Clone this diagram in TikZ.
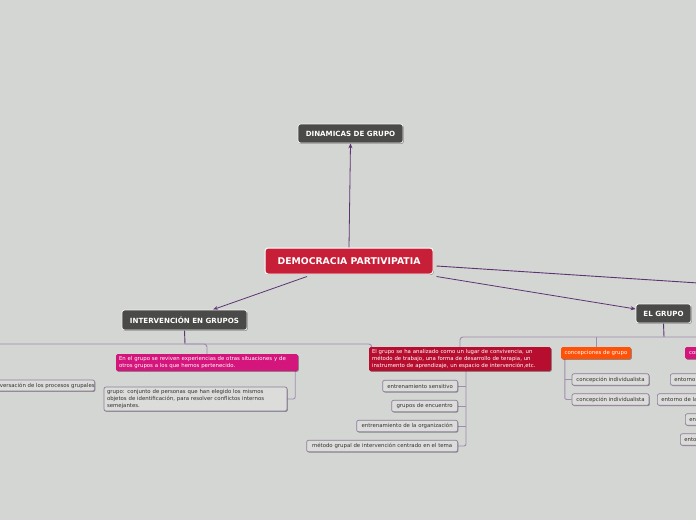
\documentclass[tikz,border=0pt]{standalone}
\usepackage{fontspec}
\setmainfont{DejaVu Sans}
\usetikzlibrary{shadows,arrows.meta,calc}
\definecolor{bgc}{HTML}{D4D6D3}
\definecolor{darkbox}{HTML}{4A4A48}
\definecolor{redc}{HTML}{C71F37}
\definecolor{red2c}{HTML}{B70D2E}
\definecolor{magc}{HTML}{D3157C}
\definecolor{orc}{HTML}{FF5208}
\definecolor{mainln}{HTML}{5E3372}
\definecolor{treeln}{HTML}{A08CB0}
\definecolor{chfill}{HTML}{DCDCDA}
\definecolor{chdraw}{HTML}{8C7C9A}
\definecolor{chtext}{HTML}{333333}
\pgfdeclarelayer{back}
\pgfdeclarelayer{lines}
\pgfsetlayers{back,lines,main}
\tikzset{
  shad/.style={drop shadow={shadow xshift=0.8pt,shadow yshift=-0.9pt,opacity=0.35,fill=black}},
  darkbox/.style={shad,fill=darkbox,draw=white!90!gray,line width=0.8pt,rounded corners=2.5pt,
    text=white,font=\bfseries\fontsize{7.1}{8}\selectfont,inner sep=0pt},
  centralbox/.style={shad,fill=redc,draw=white,line width=1pt,rounded corners=3pt,
    text=white,font=\bfseries\fontsize{9.3}{10}\selectfont,inner sep=0pt},
  colbox/.style={shad,rounded corners=1.5pt,text=white,font=\fontsize{5.4}{6.7}\selectfont,
    inner sep=0pt,align=left},
  childbox/.style={shad,fill=chfill,draw=chdraw,line width=0.7pt,rounded corners=2pt,
    text=chtext,font=\fontsize{5.4}{6.6}\selectfont,inner sep=0pt,minimum height=11.5pt},
  mainarrow/.style={draw=mainln,line width=0.8pt,-{Stealth[length=5pt,width=4pt]}},
  mainline/.style={draw=mainln,line width=0.9pt},
  treeline/.style={draw=treeln,line width=0.9pt,rounded corners=3pt}
}
\begin{document}
\begin{tikzpicture}[x=1pt,y=-1pt]
\useasboundingbox (0,0) rectangle (696,520);
\begin{pgfonlayer}{back}
\fill[bgc] (0,0) rectangle (696,520);
\end{pgfonlayer}
\clip (0,0) rectangle (696,520);

% main nodes
\node[centralbox,minimum width=168pt,minimum height=26pt] (central) at (349,261) {DEMOCRACIA PARTIVIPATIA};
\node[darkbox,minimum width=105pt,minimum height=19pt] (dinam) at (350.5,133.5) {DINAMICAS DE GRUPO};
\node[darkbox,minimum width=125pt,minimum height=20pt] (intv) at (184.5,320) {INTERVENCIÓN EN GRUPOS};
\node[darkbox,minimum width=55pt,minimum height=19pt] (grupo) at (663.5,313.5) {EL GRUPO};

% intervencion branch
\node[colbox,fill=magc,minimum width=182pt,minimum height=17pt,text width=176pt] (m1) at (207,362.5)
  {En el grupo se reviven experiencias de otras situaciones y de\\otros grupos a los que hemos pertenecido.};
\node[childbox,minimum width=183pt,minimum height=24pt,text width=177pt,align=left] (gc) at (195.5,399)
  {grupo: conjunto de personas que han elegido los mismos\\objetos de identificación, para resolver conflictos internos\\semejantes.};
\node[childbox,anchor=east,minimum height=11pt] (conv) at (95,385.5) {\hspace{3pt}conversación de los procesos grupales\hspace{3pt}};

% el grupo branch
\node[colbox,fill=red2c,minimum width=182pt,minimum height=24pt,text width=176pt] (red2) at (460,359)
  {El grupo se ha analizado como un lugar de convivencia, un\\método de trabajo, una forma de desarrollo de terapia, un\\instrumento de aprendizaje, un espacio de intervención,etc.};
\node[childbox,anchor=east,minimum width=75pt] (c1) at (458,386) {entrenamiento sensitivo};
\node[childbox,anchor=east,minimum width=66pt] (c2) at (458,406) {grupos de encuentro};
\node[childbox,anchor=east,minimum width=101pt] (c3) at (458,426) {entrenamiento de la organización};
\node[childbox,anchor=east,minimum width=151pt] (c4) at (458,446) {método grupal de intervención centrado en el tema};

\node[colbox,fill=orc,minimum width=70pt,minimum height=12pt,align=center] (conc) at (596,353) {concepciones de grupo};
\node[childbox,minimum width=77pt] (k1) at (610.5,379.5) {concepción individualista};
\node[childbox,minimum width=77pt] (k2) at (610.5,399.5) {concepción individualista};

\node[colbox,fill=magc,anchor=west,minimum height=12pt] (m2) at (685,353) {\hspace{4pt}concepciones del entorno\hspace{4pt}};
\node[childbox,anchor=west] (e1) at (670,379.5) {\hspace{4pt}entorno físico\hspace{4pt}};
\node[childbox,anchor=west] (e2) at (657,399.5) {\hspace{4pt}entorno de la organización\hspace{4pt}};
\node[childbox,anchor=west] (e3) at (685,419.5) {\hspace{4pt}entorno social\hspace{4pt}};
\node[childbox,anchor=west] (e4) at (680,439.5) {\hspace{4pt}entorno cultural\hspace{4pt}};

\coordinate (offR) at (760,287);
\coordinate (hI) at (185,344);
\coordinate (hG) at (664,337);
\coordinate (leftEnd) at (-20,344);
\coordinate (rightEnd) at (720,337);

\begin{pgfonlayer}{lines}
% main arrows
\draw[mainarrow] (central.north) -- (dinam.south);
\draw[mainarrow] ([xshift=-42pt,yshift=-2pt]central.south) -- ([xshift=28.5pt]intv.north);
\draw[mainarrow] ([xshift=3pt,yshift=-2pt]central.south east) -- ([yshift=4.5pt]grupo.west);
\draw[mainline] ([xshift=3pt,yshift=-5pt]central.east) -- (offR);

% intervencion tree
\draw[mainline] (intv.south) -- (hI);
\draw[treeline] (leftEnd) -- (m1.north |- hI) -- (m1.north);
\draw[treeline] (hI) -- ([xshift=3pt]red2.north west |- hI) -- ([xshift=3pt,yshift=-3pt]red2.north west);
\draw[treeline,rounded corners=2pt] ([xshift=-3pt]m1.south east) -- ([xshift=-3pt]m1.south east |- gc.east) -- (gc.east);

% el grupo tree
\draw[mainline] (grupo.south) -- (hG);
\draw[treeline] (red2.north) -- (red2.north |- hG) -- (rightEnd);
\draw[treeline] (conc.north) -- (conc.north |- hG);
\draw[treeline,rounded corners=2pt] ([xshift=6pt]red2.south) -- ([xshift=6pt]red2.south |- c4.east) -- (c4.east);
\draw[treeline] (c1.east) -- ([xshift=6pt]red2.south |- c1.east);
\draw[treeline] (c2.east) -- ([xshift=6pt]red2.south |- c2.east);
\draw[treeline] (c3.east) -- ([xshift=6pt]red2.south |- c3.east);
\draw[treeline,rounded corners=2pt] ([xshift=4pt]conc.south west) -- ([xshift=4pt]conc.south west |- k2.west) -- (k2.west);
\draw[treeline] (k1.west) -- ([xshift=4pt]conc.south west |- k1.west);
\end{pgfonlayer}
\end{tikzpicture}
\end{document}
